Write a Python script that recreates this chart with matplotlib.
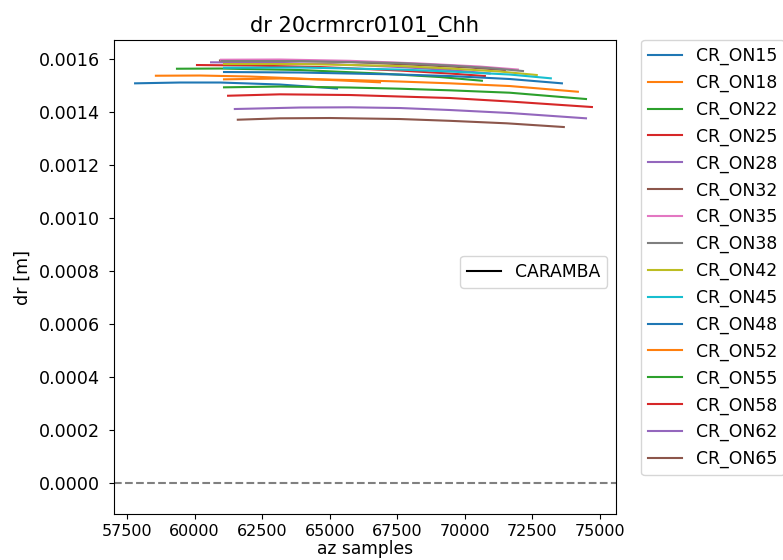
import numpy as np
import matplotlib
matplotlib.use('Agg')
import matplotlib.pyplot as plt

plt.rcParams['font.size'] = 12.6

# az sample positions and dr values [m] per corner reflector
labels = ['CR_ON15', 'CR_ON18', 'CR_ON22', 'CR_ON25', 'CR_ON28', 'CR_ON32',
          'CR_ON35', 'CR_ON38', 'CR_ON42', 'CR_ON45', 'CR_ON48', 'CR_ON52',
          'CR_ON55', 'CR_ON58', 'CR_ON62', 'CR_ON65']

az_on15 = [57800, 59460, 60940, 63160, 65270]
dr_on15 = [0.0015094, 0.0015125, 0.0015125, 0.0015049, 0.0014898]
az_on18 = [58570, 60200, 62050, 63900, 66860]
dr_on18 = [0.0015381, 0.0015389, 0.0015351, 0.0015275, 0.0015132]
az_on22 = [59350, 60940, 63900, 66860, 69080, 70630]
dr_on22 = [0.0015645, 0.0015653, 0.0015596, 0.0015464, 0.0015332, 0.0015192]
az_on25 = [60090, 62050, 64640, 67600, 69450, 70740]
dr_on25 = [0.0015785, 0.0015766, 0.0015709, 0.0015577, 0.0015464, 0.0015370]
az_on28 = [60610, 62420, 65010, 67600, 69450, 70920]
dr_on28 = [0.0015887, 0.0015879, 0.0015823, 0.0015709, 0.0015596, 0.0015464]
az_on32 = [60940, 63160, 65750, 68340, 70190, 71480]
dr_on32 = [0.0015955, 0.0015955, 0.0015898, 0.0015785, 0.0015691, 0.0015596]
az_on35 = [60980, 63160, 65750, 68340, 70550, 71960]
dr_on35 = [0.0015985, 0.0015993, 0.0015944, 0.0015842, 0.0015728, 0.0015615]
az_on38 = [61010, 63900, 67600, 69450, 70920, 72150]
dr_on38 = [0.0015936, 0.0015936, 0.0015860, 0.0015766, 0.0015672, 0.0015558]
az_on42 = [61090, 63900, 67600, 69450, 71290, 72660]
dr_on42 = [0.0015823, 0.0015823, 0.0015747, 0.0015653, 0.0015540, 0.0015408]
az_on45 = [61090, 63900, 67600, 69450, 71660, 73180]
dr_on45 = [0.0015683, 0.0015691, 0.0015615, 0.0015540, 0.0015426, 0.0015283]
az_on48 = [61090, 63900, 67600, 69450, 71660, 73590]
dr_on48 = [0.0015521, 0.0015502, 0.0015426, 0.0015370, 0.0015257, 0.0015094]
az_on52 = [61090, 63160, 65750, 67600, 69450, 71660, 74180]
dr_on52 = [0.0015245, 0.0015275, 0.0015219, 0.0015162, 0.0015094, 0.0014992, 0.0014777]
az_on55 = [61090, 63160, 65750, 67600, 69450, 71660, 74480]
dr_on55 = [0.0014943, 0.0014974, 0.0014936, 0.0014891, 0.0014830, 0.0014740, 0.0014502]
az_on58 = [61240, 63160, 65750, 67600, 69450, 71660, 74700]
dr_on58 = [0.0014626, 0.0014679, 0.0014653, 0.0014596, 0.0014540, 0.0014408, 0.0014200]
az_on62 = [61490, 63900, 65750, 67600, 69450, 71660, 74480]
dr_on62 = [0.0014125, 0.0014181, 0.0014189, 0.0014162, 0.0014087, 0.0013974, 0.0013774]
az_on65 = [61600, 63160, 65010, 67600, 69450, 71550, 73660]
dr_on65 = [0.0013721, 0.0013774, 0.0013785, 0.0013747, 0.0013679, 0.0013585, 0.0013445]

# CARAMBA reference has no samples in this window
caramba_az = []
caramba_dr = []

az_all = [az_on15, az_on18, az_on22, az_on25, az_on28, az_on32, az_on35, az_on38,
          az_on42, az_on45, az_on48, az_on52, az_on55, az_on58, az_on62, az_on65]
dr_all = [dr_on15, dr_on18, dr_on22, dr_on25, dr_on28, dr_on32, dr_on35, dr_on38,
          dr_on42, dr_on45, dr_on48, dr_on52, dr_on55, dr_on58, dr_on62, dr_on65]

fig = plt.figure(figsize=(7.83, 5.60), dpi=100)
ax = fig.add_axes([0.1456, 0.0821, 0.6411, 0.8465])

lines = []
for i in range(len(labels)):
    l, = ax.plot(az_all[i], dr_all[i], color='C' + str(i % 10), label=labels[i])
    lines.append(l)

ax.axhline(0, color='gray', linestyle='--')
cl, = ax.plot(caramba_az, caramba_dr, color='black', label='CARAMBA')

ax.set_xlim(57020, 75590)
ax.set_ylim(-0.000116, 0.001673)
ax.set_xticks(np.arange(57500, 75001, 2500))
ax.set_yticks(np.arange(0, 0.00161, 0.0002))
ax.yaxis.set_major_formatter(matplotlib.ticker.FormatStrFormatter('%.4f'))
ax.tick_params(axis='y', pad=6.5)
ax.tick_params(axis='x', pad=3.5, labelsize=11.5)

ax.set_xlabel('az samples', labelpad=1, fontsize=12.3)
ax.set_ylabel('dr [m]', labelpad=5.5)
ax.set_title('dr 20crmrcr0101_Chh')

leg1 = ax.legend(handles=lines, bbox_to_anchor=(1.05, 1), loc='upper left',
                 borderaxespad=0., fontsize=12.4)
ax.add_artist(leg1)
ax.legend(handles=[cl], loc='center right', bbox_to_anchor=(1, 0.511), fontsize=12.4)

plt.savefig('out.png', dpi=100)
